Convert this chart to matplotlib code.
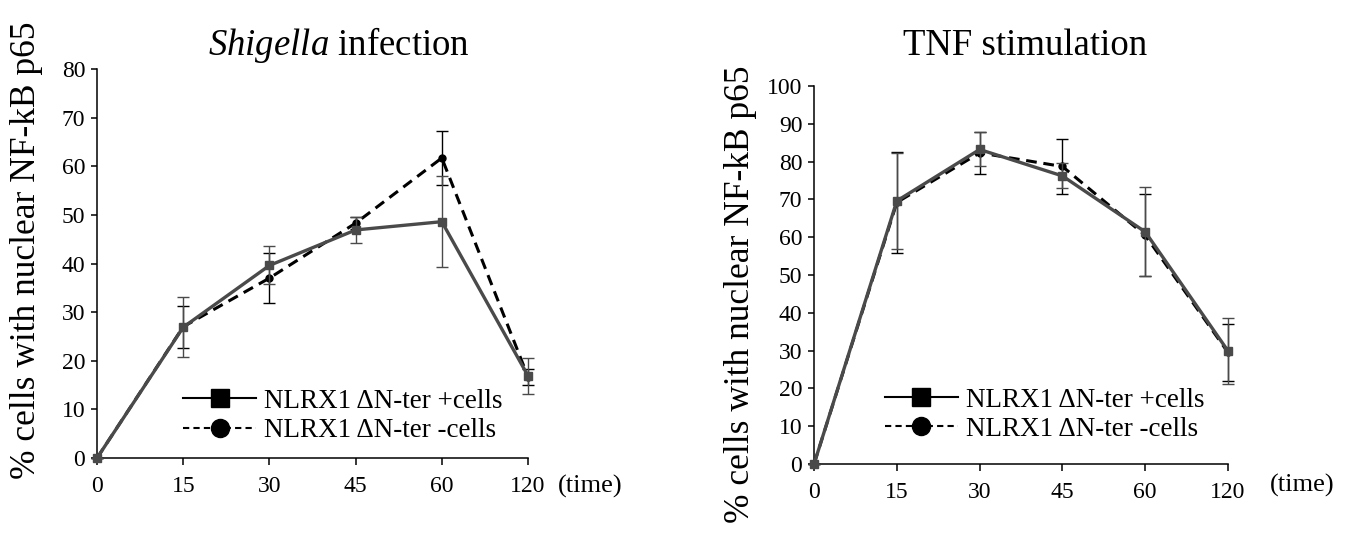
import numpy as np
import matplotlib
matplotlib.use("Agg")
import matplotlib.pyplot as plt
from matplotlib.lines import Line2D

plt.rcParams.update({"font.family": "Liberation Serif", "mathtext.fontset": "custom",
                     "mathtext.rm": "Liberation Serif",
                     "mathtext.it": "Liberation Serif:italic"})

times = ["0", "15", "30", "45", "60", "120"]

# Shigella infection
shig_pos = [0, 26.9, 39.6, 46.9, 48.6, 16.9]
shig_pos_err = [0, 6.2, 3.9, 2.6, 9.3, 3.7]
shig_neg = [0, 27.0, 37.0, 48.3, 61.7, 16.7]
shig_neg_err = [0, 4.3, 5.2, 1.2, 5.5, 1.7]

# TNF stimulation
tnf_pos = [0, 69.6, 83.2, 76.2, 61.4, 29.9]
tnf_pos_err = [0, 12.7, 4.5, 3.3, 11.8, 8.8]
tnf_neg = [0, 69.2, 82.3, 78.7, 60.5, 29.5]
tnf_neg_err = [0, 13.4, 5.6, 7.2, 10.9, 7.6]

GRAY = "#4a4a4a"
YLAB = "% cells with nuclear NF-kB p65"


def panel(ax, pos, pos_err, neg, neg_err, ymax, title, title_xy, time_xy,
          ylab_xy, leg_xy):
    x = np.arange(len(times))
    ax.errorbar(x, neg, yerr=neg_err, color="black", lw=2.2, dashes=(3.5, 2.2),
                marker="o", ms=5, ecolor="black", elinewidth=1, capsize=4,
                capthick=1, clip_on=False, zorder=3)
    ax.errorbar(x, pos, yerr=pos_err, color=GRAY, lw=2.4, marker="s", ms=5.5,
                ecolor=GRAY, elinewidth=1, capsize=4, capthick=1,
                clip_on=False, zorder=4)
    ax.set_xlim(0, len(times) - 1)
    ax.set_ylim(0, ymax)
    ax.set_xticks(x)
    ax.set_xticklabels(times)
    ax.set_yticks(np.arange(0, ymax + 1, 10))
    for s in ["top", "right"]:
        ax.spines[s].set_visible(False)
    for s in ["left", "bottom"]:
        ax.spines[s].set_linewidth(1.1)
    ax.tick_params(axis="both", labelsize=17, width=1.1)
    ax.tick_params(axis="x", length=5, pad=8)
    ax.tick_params(axis="y", length=4.5, pad=4)
    ax.text(*title_xy, title, transform=ax.transAxes, fontsize=26.5,
            ha="center", va="center")
    ax.text(*time_xy, "(time)", transform=ax.transAxes, fontsize=19,
            ha="center", va="center")
    ax.set_ylabel(YLAB, fontsize=25.5)
    ax.yaxis.set_label_coords(*ylab_xy)
    handles = [Line2D([], [], color="black", lw=1.5, marker="s", ms=13),
               Line2D([], [], color="black", lw=1.5, ls=(0, (3, 2)),
                      marker="o", ms=13)]
    ax.legend(handles, ["NLRX1 \u0394N-ter +cells", "NLRX1 \u0394N-ter -cells"],
              loc="center left", bbox_to_anchor=leg_xy, frameon=False,
              fontsize=19.5, handlelength=2.7, handletextpad=0.3,
              labelspacing=0.15, borderpad=0, borderaxespad=0)


fig = plt.figure(figsize=(13.48, 5.34), dpi=100)
ax1 = fig.add_axes([0.0720, 0.1423, 0.3197, 0.7285])
ax2 = fig.add_axes([0.6039, 0.1311, 0.3071, 0.7079])

panel(ax1, shig_pos, shig_pos_err, shig_neg, shig_neg_err, 80,
      r"$\mathit{Shigella}$ infection", (0.561, 1.062), (1.144, -0.072),
      (-0.125, 0.535), (0.2, 0.108))
panel(ax2, tnf_pos, tnf_pos_err, tnf_neg, tnf_neg_err, 100,
      "TNF stimulation", (0.51, 1.106), (1.179, -0.056),
      (-0.138, 0.45), (0.171, 0.13))

fig.savefig("out.png", dpi=100)
